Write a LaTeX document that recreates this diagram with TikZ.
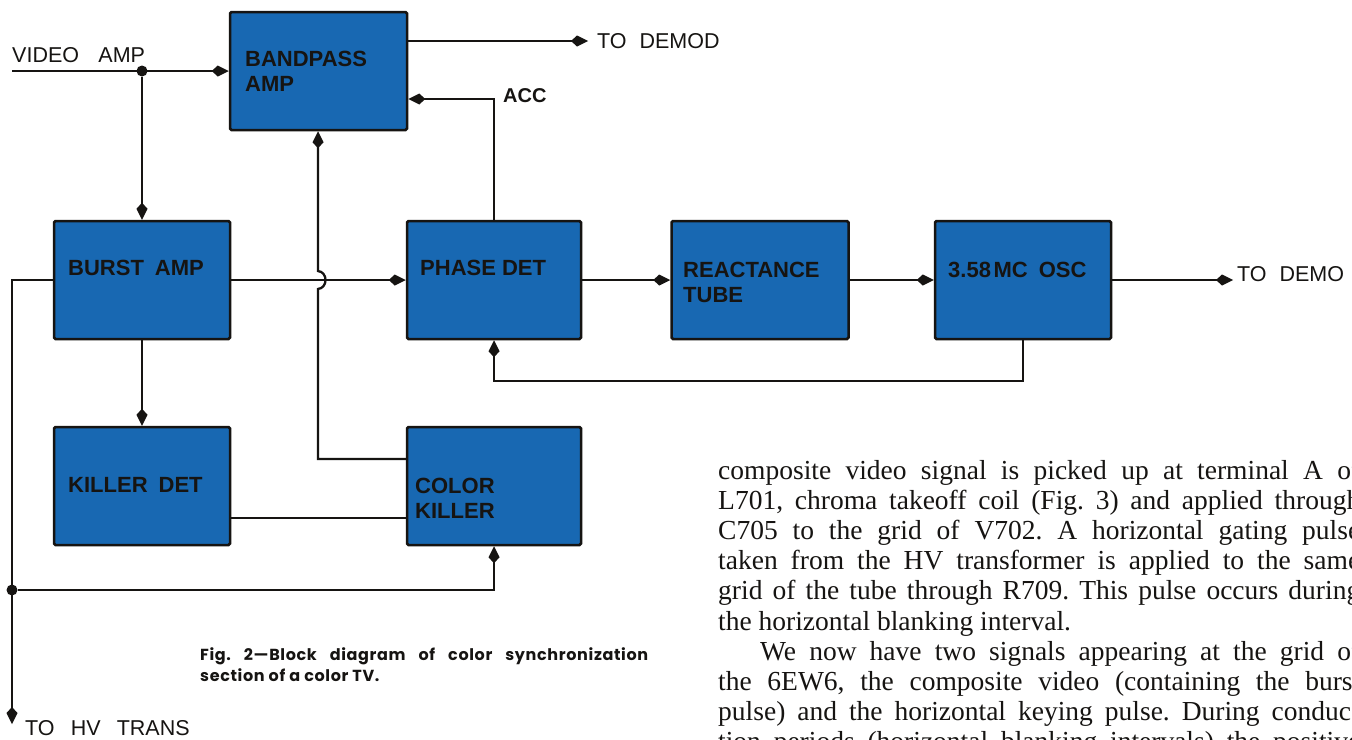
\documentclass[tikz,border=0pt]{standalone}
\usepackage{fontspec}
\setmainfont{Liberation Serif}
\newfontfamily\labfont{Liberation Sans}
\newfontfamily\capfont{Poppins}[LetterSpace=4]
\usetikzlibrary{arrows.meta}
\definecolor{boxblue}{RGB}{24,104,178}
\definecolor{ink}{RGB}{22,20,18}
\frenchspacing
\begin{document}
\begin{tikzpicture}[x=1pt,y=-1pt,
  box/.style={draw=ink, line width=2.5pt, fill=boxblue, rounded corners=1.5pt, inner sep=0pt, minimum width=177pt, minimum height=118pt},
  wire/.style={draw=ink, line width=2.3pt},
  arr/.style={wire, -{Kite[length=17pt,width=11pt,inset=6pt]}},
  lbl/.style={font=\labfont\bfseries\fontsize{22}{25}\selectfont, text=ink, anchor=west, inner sep=0pt, align=left},
  plain/.style={font=\labfont\fontsize{21.5}{25}\selectfont, text=ink, anchor=west, inner sep=0pt},
  body/.style={font=\fontsize{27.5}{30}\selectfont, text=ink, anchor=base west, inner sep=0pt},
  capt/.style={font=\capfont\bfseries\fontsize{16}{21}\selectfont, text=ink, anchor=base west, inner sep=0pt},
  dot/.style={circle, fill=ink, inner sep=0pt, minimum size=11pt},
]
\useasboundingbox (0,0) rectangle (1352,739);
\clip (0,0) rectangle (1352,739);
\fill[white] (0,0) rectangle (1352,739);

% blocks
\node[box] (bp) at (318.5,71) {};
\node[box, minimum width=176pt] (burst) at (142,280) {};
\node[box, minimum width=174pt] (phase) at (494,280) {};
\node[box] (react) at (760,280) {};
\node[box, minimum width=176pt] (osc) at (1023,280) {};
\node[box, minimum width=176pt] (killer) at (142,486) {};
\node[box, minimum width=174pt] (ck) at (494,486) {};

% block labels
\node[lbl] (bpT) at (245,71) {BANDPASS\\AMP};
\node[lbl] (burstT) at (68,268) {BURST\hspace{0.5em}AMP};
\node[lbl] (phaseT) at (420,268) {PHASE DET};
\node[lbl] (reactT) at (683,282) {REACTANCE\\TUBE};
\node[lbl] (oscT) at (948,270) {3.58\hspace{0.12em}MC\hspace{0.5em}OSC};
\node[lbl] (killerT) at (68,485) {KILLER\hspace{0.5em}DET};
\node[lbl] (ckT) at (415,498) {COLOR\\KILLER};

% free labels
\node[plain] (vidT) at (12,55) {VIDEO\hspace{0.9em}AMP};
\node[plain] (dem1T) at (597,41) {TO\hspace{0.6em}DEMOD};
\node[lbl, font=\labfont\bfseries\fontsize{20}{25}\selectfont] (accT) at (503,96) {ACC};
\node[plain] (dem2T) at (1237,274) {TO\hspace{0.6em}DEMO};
\node[plain] (hvT) at (25,728) {TO\hspace{0.75em}HV\hspace{0.75em}TRANS};

% coordinates
\coordinate (vin) at (12,71);
\node[dot] (j1) at (142,71) {};
\coordinate (d1) at (588,41);
\coordinate (acc) at (494,99);
\coordinate (ckin) at (318,459);
\coordinate (hopB) at (318,289);
\coordinate (hopT) at (318,271);
\coordinate (d2) at (1233,280);
\coordinate (fb) at (1023,381);
\coordinate (hvtop) at (12,280);
\node[dot] (j2) at (12,590) {};
\coordinate (hvend) at (12,724);
\coordinate (kk) at (232,518);

% wires
\draw[arr] (vin) -- (bp.west);
\draw[arr] (j1) -- (burst.north);
\draw[arr] (bp.east |- d1) -- (d1);
\draw[arr] (phase.north) -- (acc) -- (bp.east |- acc);
\draw[arr] (ck.west |- ckin) -- (ckin) -- (hopB) .. controls (328,288) and (328,272) .. (hopT) -- (bp.south -| hopT);
\draw[arr] (burst.east) -- (phase.west);
\draw[arr] (phase.east) -- (react.west);
\draw[arr] (react.east) -- (osc.west);
\draw[arr] (osc.east) -- (d2);
\draw[arr] (osc.south) -- (fb) -| (phase.south);
\draw[arr] (burst.west) -- (hvtop) -- (hvend);
\draw[arr] (j2) -| (ck.south);
\draw[arr] (burst.south) -- (killer.north);
\draw[wire] (killer.east |- kk) -- (ck.west |- kk);

% caption
\node[capt] (cap1) at (200,660) {\makebox[448pt][s]{Fig. 2—Block diagram of color synchronization}};
\node[capt] (cap2) at (200,681) {section of a color TV.};

% body text
\node[body] (l1) at (718,479) {\makebox[642pt][s]{composite video signal is picked up at terminal A of}};
\node[body] (l2) at (718,509.2) {\makebox[642pt][s]{L701, chroma takeoff coil (Fig.~3) and applied through}};
\node[body] (l3) at (718,539.4) {\makebox[642pt][s]{C705 to the grid of V702. A horizontal gating pulse}};
\node[body] (l4) at (718,569.6) {\makebox[642pt][s]{taken from the HV transformer is applied to the same}};
\node[body] (l5) at (718,599.8) {\makebox[642pt][s]{grid of the tube through R709. This pulse occurs during}};
\node[body] (l6) at (718,630) {the horizontal blanking interval.};
\node[body] (l7) at (760,660.2) {\makebox[600pt][s]{We now have two signals appearing at the grid of}};
\node[body] (l8) at (718,690.4) {\makebox[642pt][s]{the 6EW6, the composite video (containing the burst}};
\node[body] (l9) at (718,720.6) {\makebox[642pt][s]{pulse) and the horizontal keying pulse. During conduc-}};
\node[body] (l10) at (718,750.8) {\makebox[642pt][s]{tion periods (horizontal blanking intervals) the positive}};
\end{tikzpicture}
\end{document}
